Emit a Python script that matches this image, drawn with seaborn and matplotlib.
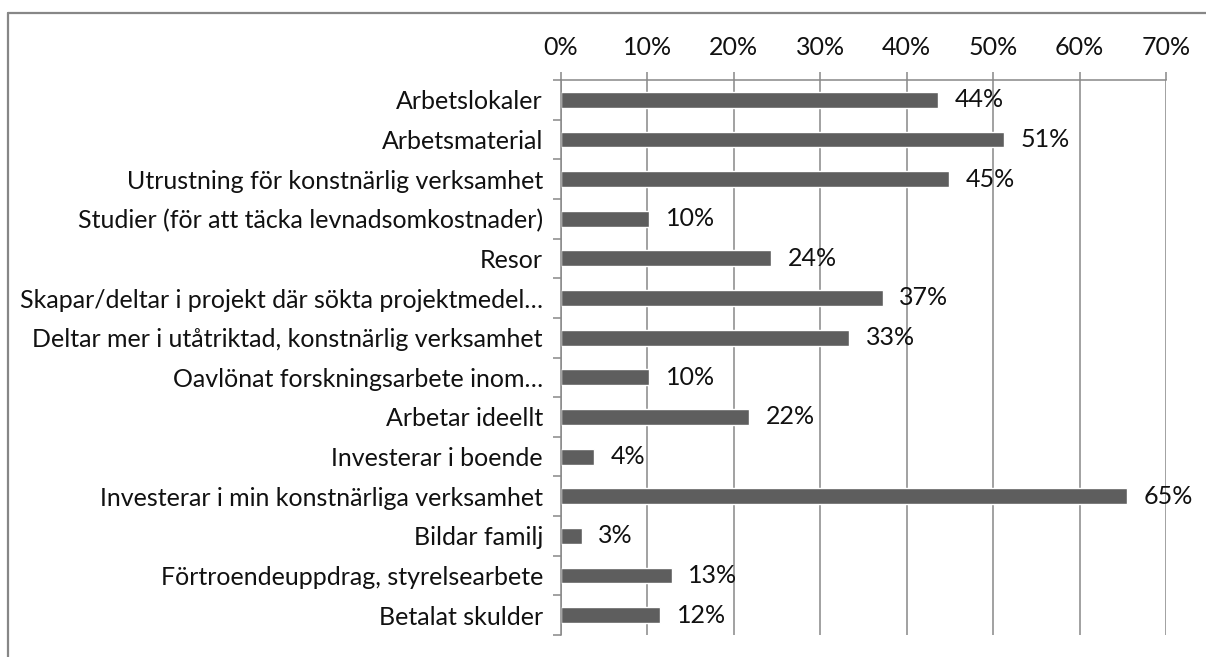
import numpy as np
import pandas as pd
import matplotlib
matplotlib.use('Agg')
import matplotlib.pyplot as plt
from matplotlib.lines import Line2D
from matplotlib.ticker import FixedLocator, PercentFormatter
import seaborn as sns

# Data

categories = ['Arbetslokaler',
              'Arbetsmaterial',
              'Utrustning för konstnärlig verksamhet',
              'Studier (för att täcka levnadsomkostnader)',
              'Resor',
              'Skapar/deltar i projekt där sökta projektmedel…',
              'Deltar mer i utåtriktad, konstnärlig verksamhet',
              'Oavlönat forskningsarbete inom…',
              'Arbetar ideellt',
              'Investerar i boende',
              'Investerar i min konstnärliga verksamhet',
              'Bildar familj',
              'Förtroendeuppdrag, styrelsearbete',
              'Betalat skulder']

shares = [0.436, 0.512, 0.449, 0.102, 0.243, 0.372, 0.333,
          0.102, 0.218, 0.038, 0.655, 0.024, 0.128, 0.115]

value_labels = ['44%', '51%', '45%', '10%', '24%', '37%', '33%',
                '10%', '22%', '4%', '65%', '3%', '13%', '12%']

x_ticks = [0, 0.1, 0.2, 0.3, 0.4, 0.5, 0.6, 0.7]

df = pd.DataFrame({'category': categories, 'share': shares})

# Style

sns.set_style('white')
plt.rcParams['font.family'] = ['Lato', 'DejaVu Sans']

grey = '#888888'
bar_colour = '#5e5e5e'
fs = 18

W, H = 1206, 657
fig = plt.figure(figsize=(W / 100, H / 100), dpi=100)
ax = fig.add_axes([561 / W, 1 - 635 / H, (1166 - 561) / W, (635 - 80) / H])

sns.barplot(data=df, x='share', y='category', orient='h',
            color=bar_colour, width=0.4, saturation=1, ax=ax)

# Value labels next to the bars (sit slightly below the bar centre)

labels = ax.bar_label(ax.containers[0], labels=value_labels, padding=12,
                      fontsize=fs, color='#111111')
for t in labels:
    t.set_y(t.get_position()[1] + 0.06)

# Axes setup

ax.set_xlim(0, 0.7)
ax.set_ylim(len(categories) - 0.5, -0.5)
ax.set_xlabel('')
ax.set_ylabel('')

ax.xaxis.set_major_locator(FixedLocator(x_ticks))
ax.xaxis.set_major_formatter(PercentFormatter(1.0, decimals=0))
ax.xaxis.tick_top()
ax.tick_params(axis='x', which='major', top=True, bottom=False,
               length=6, width=1.1, color=grey, direction='out',
               pad=9, labelsize=fs, labelcolor='#111111')

ax.yaxis.set_minor_locator(FixedLocator(np.arange(-0.5, len(categories), 1)))
ax.tick_params(axis='y', which='major', left=False, length=0,
               pad=13, labelsize=fs, labelcolor='#111111')
ax.tick_params(axis='y', which='minor', left=True, length=6,
               width=1.1, color=grey, direction='out')

ax.grid(axis='x', color=grey, linewidth=1.1)
ax.set_axisbelow(True)

for side in ['right', 'bottom']:
    ax.spines[side].set_visible(False)
for side in ['top', 'left']:
    ax.spines[side].set_color(grey)
    ax.spines[side].set_linewidth(1.1)

# Chart-area border (only top and left are inside the picture)

fig.add_artist(Line2D([8 / W, 1], [1 - 13 / H, 1 - 13 / H],
                      color='#878787', linewidth=1.6))
fig.add_artist(Line2D([8 / W, 8 / W], [0, 1 - 13 / H],
                      color='#878787', linewidth=1.6))

fig.savefig('out.png', dpi=100)
